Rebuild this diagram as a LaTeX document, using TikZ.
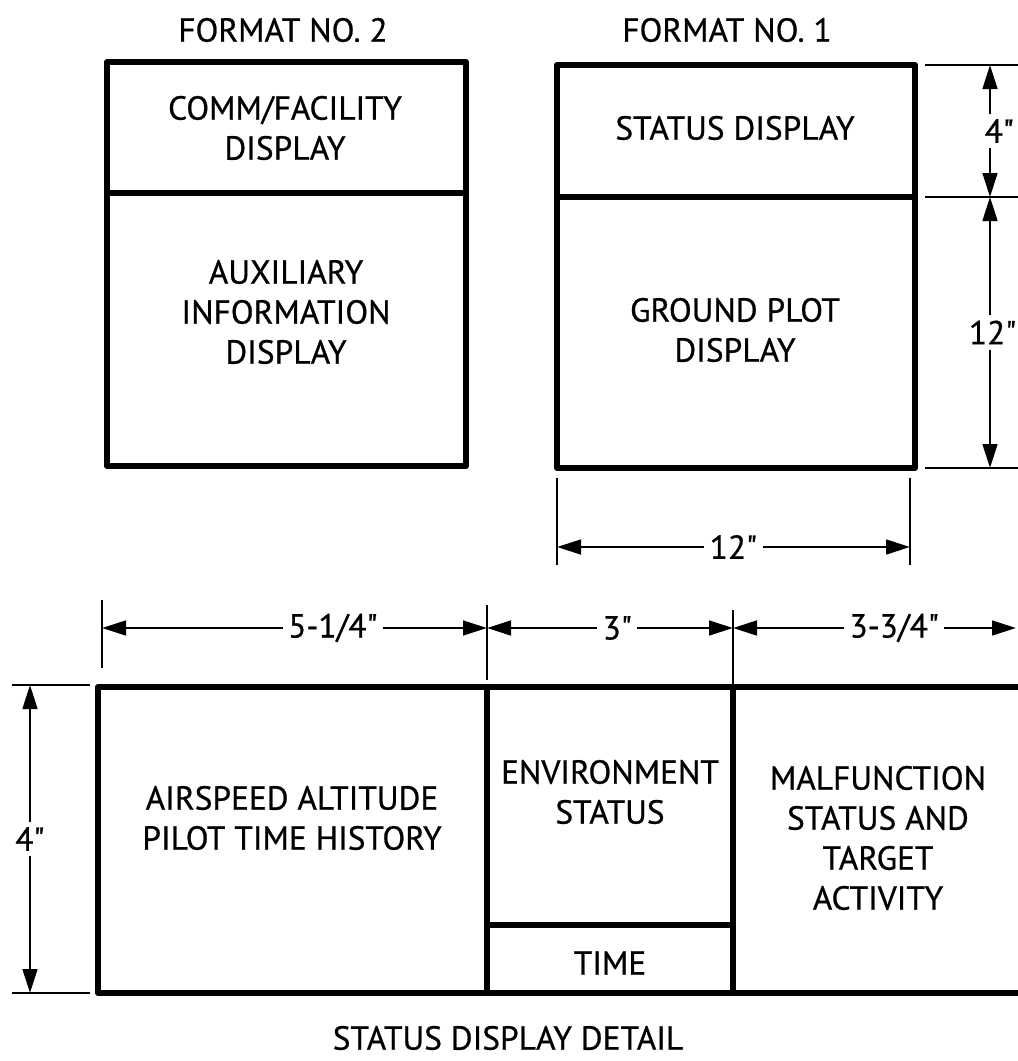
\documentclass[tikz,border=0pt]{standalone}
\usepackage{fontspec}
\newfontfamily\lblfont[FakeBold=0.7]{PT Sans}
\usetikzlibrary{arrows.meta}
\begin{document}
\begin{tikzpicture}[x=0.75pt,y=-0.75pt,
  box/.style={line width=4.4pt, line join=round, line cap=round},
  dimline/.style={line width=2pt},
  dimarrow/.style={line width=2pt,{Triangle[length=18pt,width=11pt]}-{Triangle[length=18pt,width=11pt]}},
  lbl/.style={font=\lblfont\fontsize{25}{30}\selectfont, align=center, inner sep=1pt},
  dimlbl/.style={font=\lblfont\fontsize{25}{30}\selectfont, fill=white, inner sep=4pt}]
\useasboundingbox (0,0) rectangle (1018,1061);

% titles
\node[lbl] (t2) at (283,30) {FORMAT NO. 2};
\node[lbl] (t1) at (727,30) {FORMAT NO. 1};

% format 2
\draw[box] (107,62) rectangle (466,466);
\draw[box] (107,193) -- (466,193);
\node[lbl] (comm) at (285,128) {COMM/FACILITY\\DISPLAY};
\node[lbl] (aux) at (286,312) {AUXILIARY\\INFORMATION\\DISPLAY};

% format 1
\draw[box] (557,65) rectangle (915,468);
\draw[box] (557,197) -- (915,197);
\node[lbl] (stat) at (735,128) {STATUS DISPLAY};
\node[lbl] (gp) at (735,330) {GROUND PLOT\\DISPLAY};

% right dimensions
\draw[dimline] (925,65) -- (1018,65);
\draw[dimline] (925,197) -- (1018,197);
\draw[dimline] (925,468) -- (1018,468);
\coordinate (r1) at (990,65);
\coordinate (r2) at (990,197);
\coordinate (r3) at (990,468);
\draw[dimarrow] (r1) -- node[dimlbl,xshift=7pt,inner xsep=1pt] (d4a) {4"} (r2);
\draw[dimarrow] (r2) -- node[dimlbl,xshift=2pt,inner xsep=1pt] (d12a) {12"} (r3);

% bottom 12" dimension
\draw[dimline] (557,478) -- (557,565);
\draw[dimline] (910,478) -- (910,565);
\coordinate (b1) at (557,547);
\coordinate (b2) at (910,547);
\draw[dimarrow] (b1) -- node[dimlbl,pos=0.5] (d12b) {12"} (b2);

% row dimensions
\draw[dimline] (102,600) -- (102,668);
\draw[dimline] (487,605) -- (487,680);
\draw[dimline] (733,610) -- (733,685);
\coordinate (h1) at (102,628);
\coordinate (h2) at (487,628);
\coordinate (h3) at (733,628);
\coordinate (h4) at (1016,628);
\draw[dimarrow] (h1) -- node[dimlbl,pos=0.6] (d514) {5-1/4"} (h2);
\draw[dimarrow] (h2) -- node[dimlbl,pos=0.53] (d3) {3"} (h3);
\draw[dimarrow] (h3) -- node[dimlbl,pos=0.57] (d334) {3-3/4"} (h4);

% left dimension
\draw[dimline] (12,685) -- (90,685);
\draw[dimline] (12,993) -- (90,993);
\coordinate (l1) at (30,685);
\coordinate (l2) at (30,993);
\draw[dimarrow] (l1) -- node[dimlbl] (d4b) {4"} (l2);

% status display detail
\draw[box] (1030,687) -- (98,687) -- (98,993) -- (1030,993);
\draw[box] (487,687) -- (487,993);
\draw[box] (733,687) -- (733,993);
\draw[box] (487,925) -- (733,925);
\node[lbl] (air) at (292,818) {AIRSPEED ALTITUDE\\PILOT TIME HISTORY};
\node[lbl] (env) at (610,792) {ENVIRONMENT\\STATUS};
\node[lbl] (time) at (610,963) {TIME};
\node[lbl] (mal) at (878,838) {MALFUNCTION\\STATUS AND\\TARGET\\ACTIVITY};
\node[lbl] (cap) at (508,1038) {STATUS DISPLAY DETAIL};
\end{tikzpicture}
\end{document}
